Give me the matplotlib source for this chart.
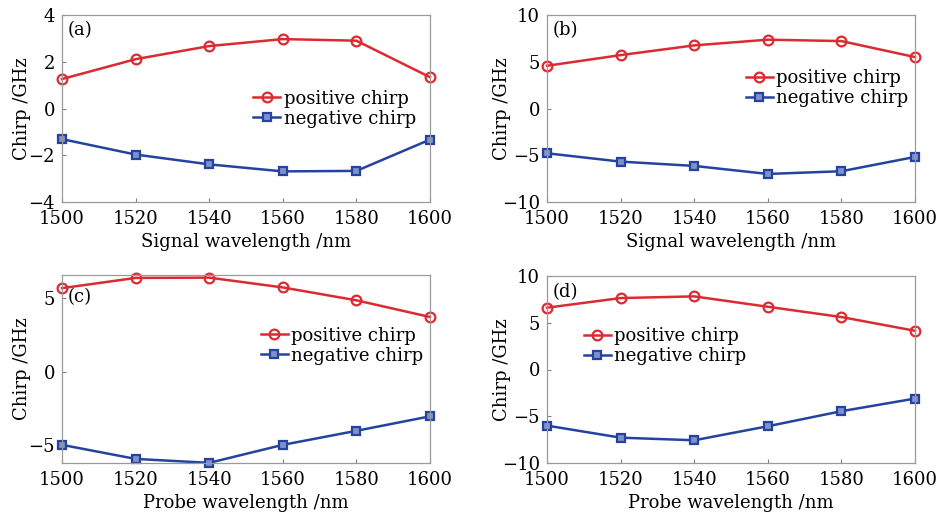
import matplotlib
matplotlib.use("Agg")
import matplotlib.pyplot as plt

plt.rcParams["font.family"] = ["DejaVu Serif"]
plt.rcParams["axes.unicode_minus"] = True

wavelength = [1500, 1520, 1540, 1560, 1580, 1600]

# (a) signal wavelength
a_pos = [1.26, 2.11, 2.67, 2.97, 2.90, 1.34]
a_neg = [-1.31, -1.97, -2.39, -2.69, -2.67, -1.33]
# (b) signal wavelength
b_pos = [4.57, 5.71, 6.75, 7.36, 7.21, 5.50]
b_neg = [-4.79, -5.68, -6.14, -7.00, -6.71, -5.18]
# (c) probe wavelength
c_pos = [5.70, 6.40, 6.42, 5.75, 4.87, 3.73]
c_neg = [-5.01, -5.97, -6.24, -5.01, -4.05, -3.06]
# (d) probe wavelength
d_pos = [6.61, 7.64, 7.82, 6.71, 5.61, 4.14]
d_neg = [-6.00, -7.29, -7.57, -6.07, -4.46, -3.11]

RED = "#dc2a32"
BLUE = "#2443a0"
FS = 13

panels = [
    # label, pos, neg, xlabel, ylim, yticks, rect, legend anchor, tag y, ylabel x
    ("(a)", a_pos, a_neg, "Signal wavelength /nm", (-4, 4), [-4, -2, 0, 2, 4],
     [62, 15, 430, 202], (0.52, 0.60), 0.92, -0.084),
    ("(b)", b_pos, b_neg, "Signal wavelength /nm", (-10, 10), [-10, -5, 0, 5, 10],
     [547, 15, 915, 202], (0.54, 0.71), 0.92, -0.098),
    ("(c)", c_pos, c_neg, "Probe wavelength /nm", (-6.25, 6.6), [-5, 0, 5],
     [62, 275, 430, 463], (0.54, 0.725), 0.885, -0.084),
    ("(d)", d_pos, d_neg, "Probe wavelength /nm", (-10, 10), [-10, -5, 0, 5, 10],
     [547, 276, 915, 463], (0.10, 0.725), 0.915, -0.098),
]

W, H = 938, 516
fig = plt.figure(figsize=(W / 100, H / 100), dpi=100)

for tag, pos, neg, xlab, ylim, yticks, rect, anchor, tag_y, ylab_x in panels:
    x0, y0, x1, y1 = rect
    ax = fig.add_axes([x0 / W, 1 - y1 / H, (x1 - x0) / W, (y1 - y0) / H])
    ax.plot(wavelength, pos, color=RED, lw=1.8, marker="o", ms=7,
            mfc="none", mec=RED, mew=1.6, label="positive chirp", clip_on=False)
    ax.plot(wavelength, neg, color=BLUE, lw=1.8, marker="s", ms=5.5,
            mfc="#8090c8", mec=BLUE, mew=1.6, label="negative chirp", clip_on=False)
    ax.set_xlim(1500, 1600)
    ax.set_ylim(*ylim)
    ax.set_xticks(wavelength)
    ax.set_yticks(yticks)
    ax.set_xlabel(xlab, fontsize=FS, labelpad=3.5)
    ax.set_ylabel("Chirp /GHz", fontsize=FS)
    ax.yaxis.set_label_coords(ylab_x, 0.5)
    ax.tick_params(direction="in", length=3, width=0.8, color="#808080",
                   labelsize=FS)
    ax.tick_params(axis="x", pad=6)
    ax.tick_params(axis="y", pad=5)
    for sp in ax.spines.values():
        sp.set_color("#9a9a9a")
        sp.set_linewidth(0.9)
    ax.text(0.015, tag_y, tag, transform=ax.transAxes, fontsize=FS,
            ha="left", va="center")
    ax.legend(loc="upper left", bbox_to_anchor=anchor, frameon=False,
              fontsize=FS, handlelength=1.5, handletextpad=0.2,
              labelspacing=0.1, borderpad=0, borderaxespad=0)

fig.savefig("out.png", dpi=100)
